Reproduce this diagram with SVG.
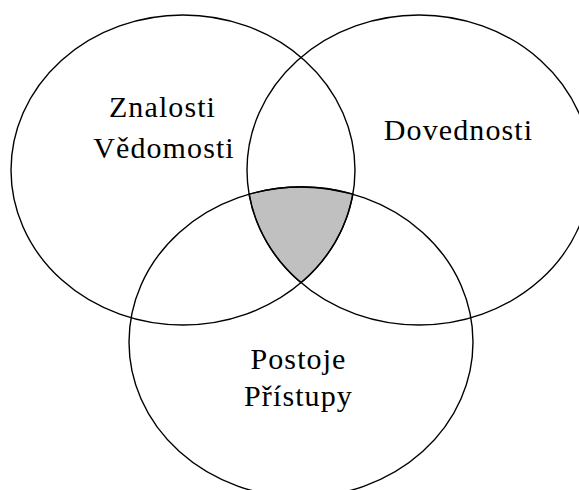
<svg xmlns="http://www.w3.org/2000/svg" width="579" height="490" viewBox="0 0 579 490">
<style>
.c{fill:none;stroke:#000;stroke-width:1.4}
.t{font-family:"Liberation Serif","Times New Roman",serif;font-size:30px;letter-spacing:1.1px;fill:#000;text-anchor:middle}
</style>
<rect width="579" height="490" fill="#fff"/>
<g id="shaded">
<path d="M249.1,194.2 A172,155 0 0 1 352.9,194.2 A172,155 0 0 1 301,282.8 A172,155 0 0 1 249.1,194.2 Z" fill="#c0c0c0" stroke="#000" stroke-width="1.4"/>
</g>
<g id="znalosti">
<ellipse class="c" cx="183" cy="170" rx="172" ry="155"/>
<text class="t" x="162.5" y="117">Znalosti</text>
<text class="t" x="164" y="158">Vědomosti</text>
</g>
<g id="dovednosti">
<ellipse class="c" cx="419" cy="170" rx="172" ry="155"/>
<text class="t" x="458.5" y="140">Dovednosti</text>
</g>
<g id="postoje">
<ellipse class="c" cx="301" cy="342" rx="172" ry="155"/>
<text class="t" x="298.5" y="369">Postoje</text>
<text class="t" x="298.5" y="406">Přístupy</text>
</g>
<g id="connectors"/>
</svg>
